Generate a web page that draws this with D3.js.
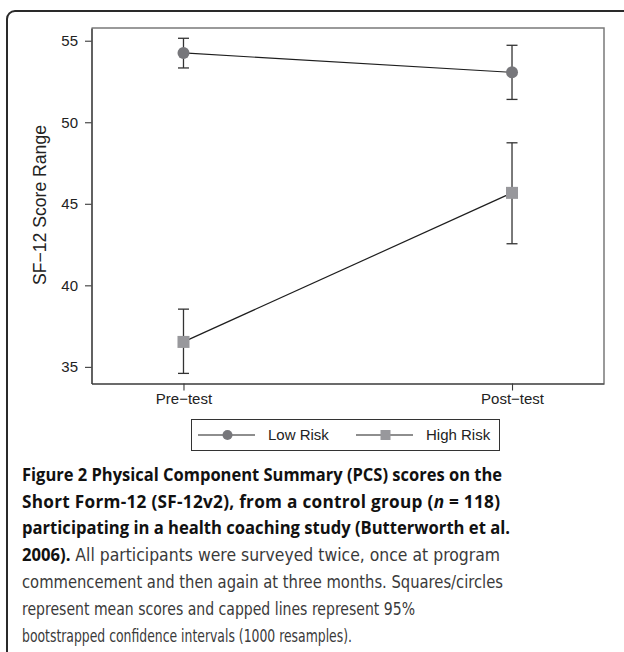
<!DOCTYPE html>
<html><head><meta charset="utf-8">
<script src="https://cdn.jsdelivr.net/npm/d3@7"></script>
<style>html,body{margin:0;padding:0;background:#fff;}svg{display:block;}</style>
</head><body>
<script>
const categories = ["Pre\u2212test", "Post\u2212test"];
const seriesNames = ["Low Risk", "High Risk"];
const lowMean  = [54.25, 53.06];
const lowLower = [53.33, 51.40];
const lowUpper = [55.15, 54.72];
const highMean  = [36.53, 45.67];
const highLower = [34.60, 42.55];
const highUpper = [38.54, 48.74];
const yTicks = [35, 40, 45, 50, 55];
const yTitle = "SF\u221212 Score Range";

(function () {
const W = 624, H = 652;
const svg = d3.select("body").append("svg").attr("width", W).attr("height", H);

// outer frame (cut off at right/bottom)
svg.append("rect").attr("x", 7).attr("y", 11).attr("width", 640).attr("height", 700)
  .attr("rx", 8).attr("fill", "none").attr("stroke", "#2a2a2a").attr("stroke-width", 2);

const pL = 91.5, pR = 604, pT = 28, pB = 383.5;
const x = d3.scalePoint().domain(categories).range([pL, pR]).padding(0.28);
const y = d3.scaleLinear().domain([33.98, 55.78]).range([pB, pT]);

const font = "'Liberation Sans', Arial, Helvetica, sans-serif";

// top & right border
svg.append("path").attr("d", `M${pL},${pT}H${pR}V${pB}`)
  .attr("fill", "none").attr("stroke", "#7a7a7a").attr("stroke-width", 1.5);

const gy = svg.append("g").attr("transform", `translate(${pL},0)`)
  .call(d3.axisLeft(y).tickValues(yTicks).tickSize(6.5).tickSizeOuter(0).tickPadding(7));
const gx = svg.append("g").attr("transform", `translate(0,${pB})`)
  .call(d3.axisBottom(x).tickSize(7).tickSizeOuter(0).tickPadding(3));
[gy, gx].forEach(g => {
  g.select(".domain").attr("stroke", "#3a3a3a").attr("stroke-width", 1.6);
  g.selectAll(".tick line").attr("stroke", "#3a3a3a").attr("stroke-width", 1.1);
  g.selectAll(".tick text").attr("font-family", font).attr("font-size", 15).attr("fill", "#222");
});

svg.append("text").attr("transform", "translate(46,205) rotate(-90)")
  .attr("text-anchor", "middle").attr("font-family", font).attr("font-size", 17.6)
  .attr("fill", "#222").text(yTitle);

const series = [
  {name: seriesNames[0], mean: lowMean, lo: lowLower, hi: lowUpper, shape: "circle", fill: "#77777b"},
  {name: seriesNames[1], mean: highMean, lo: highLower, hi: highUpper, shape: "square", fill: "#98989c"}
];

const line = d3.line().x((d, i) => x(categories[i])).y(d => y(d));
series.forEach(s => {
  const g = svg.append("g");
  categories.forEach((c, i) => {
    const cx = x(c);
    g.append("line").attr("x1", cx).attr("x2", cx).attr("y1", y(s.lo[i])).attr("y2", y(s.hi[i]))
      .attr("stroke", "#333").attr("stroke-width", 1.3);
    [s.lo[i], s.hi[i]].forEach(v => {
      g.append("line").attr("x1", cx - 5.5).attr("x2", cx + 5.5).attr("y1", y(v)).attr("y2", y(v))
        .attr("stroke", "#333").attr("stroke-width", 1.3);
    });
  });
  g.append("path").attr("d", line(s.mean)).attr("fill", "none").attr("stroke", "#1e1e1e").attr("stroke-width", 1.2);
  categories.forEach((c, i) => {
    if (s.shape === "circle") {
      g.append("circle").attr("cx", x(c)).attr("cy", y(s.mean[i])).attr("r", 6).attr("fill", s.fill);
    } else {
      g.append("rect").attr("x", x(c) - 6).attr("y", y(s.mean[i]) - 6).attr("width", 12).attr("height", 12).attr("fill", s.fill);
    }
  });
});

// legend
const lg = svg.append("g");
lg.append("rect").attr("x", 191.5).attr("y", 419.5).attr("width", 308).attr("height", 31)
  .attr("fill", "#fff").attr("stroke", "#333").attr("stroke-width", 1);
const legX = [198, 356];
series.forEach((s, k) => {
  const x0 = legX[k], cy = 435;
  lg.append("line").attr("x1", x0).attr("x2", x0 + 57).attr("y1", cy).attr("y2", cy)
    .attr("stroke", "#1e1e1e").attr("stroke-width", 1.2);
  if (s.shape === "circle") lg.append("circle").attr("cx", x0 + 29.5).attr("cy", cy).attr("r", 5).attr("fill", s.fill);
  else lg.append("rect").attr("x", x0 + 29.5 - 5).attr("y", cy - 5).attr("width", 10).attr("height", 10).attr("fill", s.fill);
  lg.append("text").attr("x", x0 + 70).attr("y", cy).attr("dy", "0.35em")
    .attr("font-family", font).attr("font-size", 15).attr("fill", "#222").text(s.name);
});

// caption
const boldFont = "'Open Sans', 'Noto Sans', sans-serif";
const regFont = "'Liberation Sans Narrow', 'Arial Narrow', 'DejaVu Sans Condensed', 'Open Sans', sans-serif";
const capLines = [
  {w: 480, parts: [["Figure 2 Physical Component Summary (PCS) scores on the", "b"]]},
  {w: 478, parts: [["Short Form-12 (SF-12v2), from a control group (", "b"], ["n", "bi"], [" = 118)", "b"]]},
  {w: 488, parts: [["participating in a health coaching study (Butterworth et al.", "b"]]},
  {w: 478, parts: [["2006).", "b"], [" All participants were surveyed twice, once at program", "r"]]},
  {w: 481, parts: [["commencement and then again at three months. Squares/circles", "r"]]},
  {w: 393, parts: [["represent mean scores and capped lines represent 95%", "r"]]},
  {w: 330, parts: [["bootstrapped confidence intervals (1000 resamples).", "r"]]}
];
capLines.forEach((ln, i) => {
  const t = svg.append("text").attr("x", 22).attr("y", 480.7 + i * 26.8)
    .attr("font-size", 17.4);
  ln.parts.forEach(([txt, st]) => {
    const b = st.startsWith("b");
    t.append("tspan").text(txt)
      .attr("font-family", b ? boldFont : regFont)
      .attr("font-size", b ? 17.2 : 18)
      .attr("font-weight", b ? 700 : 400)
      .attr("font-style", st === "bi" ? "italic" : "normal")
      .attr("fill", b ? "#111" : "#3a3a3a");
  });
  const nat = t.node().getComputedTextLength();
  t.attr("textLength", ln.w).attr("lengthAdjust", nat > ln.w * 1.02 ? "spacingAndGlyphs" : "spacing");
});
})();
</script>
</body></html>
